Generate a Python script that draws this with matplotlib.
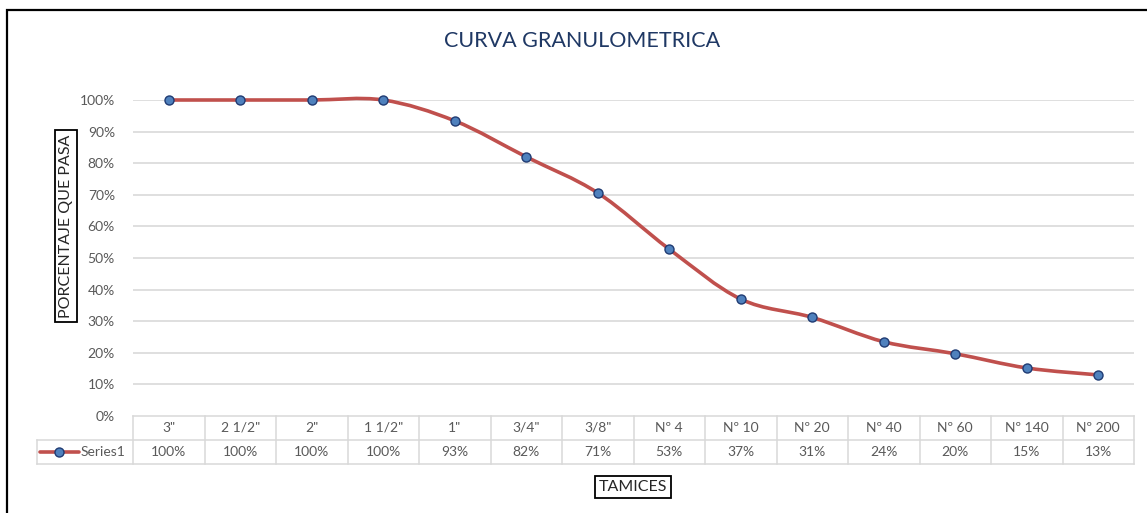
# curva granulometrica - line chart with Excel-like data table
import numpy as np
import matplotlib
matplotlib.use("Agg")
import matplotlib.pyplot as plt
from matplotlib.path import Path
from matplotlib.patches import PathPatch, Rectangle
from matplotlib.lines import Line2D
from matplotlib.transforms import blended_transform_factory

plt.rcParams['font.family'] = ['Lato', 'DejaVu Sans']

tamices = ['3"', '2 1/2"', '2"', '1 1/2"', '1"', '3/4"', '3/8"',
           'Nº 4', 'Nº 10', 'Nº 20', 'Nº 40', 'Nº 60', 'Nº 140', 'Nº 200']
pasa = [1.00, 1.00, 1.00, 1.00, 0.934, 0.820, 0.706, 0.528,
        0.370, 0.312, 0.235, 0.197, 0.152, 0.130]
series_name = "Series1"

LINE_C = "#C0504D"
MARK_C = "#4F81BD"
EDGE_C = "#1F3B73"
GRID_C = "#D9D9D9"
TXT_C = "#595959"

W, H = 1147, 513
fig = plt.figure(figsize=(W / 100, H / 100), dpi=100)
ax = fig.add_axes([133 / W, 1 - 416 / H, (1134 - 133) / W, (416 - 100) / H])

n = len(tamices)
xs = np.arange(n)
ys = np.array(pasa)

# smoothed line like Excel (catmull-rom as bezier)
pts = np.column_stack([xs, ys])
verts = [pts[0]]
codes = [Path.MOVETO]
for i in range(n - 1):
    p0 = pts[max(i - 1, 0)]
    p1 = pts[i]
    p2 = pts[i + 1]
    p3 = pts[min(i + 2, n - 1)]
    verts += [p1 + (p2 - p0) / 6, p2 - (p3 - p1) / 6, p2]
    codes += [Path.CURVE4] * 3
ax.add_patch(PathPatch(Path(verts, codes), fill=False, edgecolor=LINE_C,
                       lw=2.6, capstyle='round', clip_on=False, zorder=3))
ax.plot(xs, ys, ls='none', marker='o', ms=6.5, mfc=MARK_C, mec=EDGE_C,
        mew=1.0, clip_on=False, zorder=4)

ax.set_xlim(-0.5, n - 0.5)
ax.set_ylim(0, 1.0)
yt = np.arange(0, 1.01, 0.1)
ax.set_yticks(yt)
ax.set_yticklabels([f"{int(round(v * 100))}%" for v in yt], color=TXT_C, fontsize=10)
ax.tick_params(axis='y', length=0, pad=13)
ax.set_xticks([])
for s in ax.spines.values():
    s.set_visible(False)
for v in yt[1:]:
    ax.axhline(v, color=GRID_C, lw=1.2, zorder=1)

# data table under the axis
tr = blended_transform_factory(ax.transData, ax.transAxes)
ah = 416 - 100
r1 = -24 / ah
r2 = -48 / ah
xl = -0.5 - (133 - 37) / ((1134 - 133) / n)
tab_kw = dict(color=GRID_C, lw=1.1, transform=tr, clip_on=False)
ax.plot([-0.5, n - 0.5], [0, 0], **tab_kw)
ax.plot([xl, n - 0.5], [r1, r1], **tab_kw)
ax.plot([xl, n - 0.5], [r2, r2], **tab_kw)
for b in np.arange(n + 1) - 0.5:
    ax.plot([b, b], [0, r2], **tab_kw)
ax.plot([xl, xl], [r1, r2], **tab_kw)
for i, (t, v) in enumerate(zip(tamices, pasa)):
    ax.text(i, r1 / 2, t, transform=tr, ha='center', va='center',
            fontsize=10, color=TXT_C)
    ax.text(i, (r1 + r2) / 2, f"{int(round(v * 100))}%", transform=tr,
            ha='center', va='center', fontsize=10, color=TXT_C)

# legend key in the row label cell
cell_w = (1134 - 133) / n
lx0 = xl + 3 / cell_w
lx1 = xl + 42 / cell_w
ym = (r1 + r2) / 2
ax.add_line(Line2D([lx0, lx1], [ym, ym], color=LINE_C, lw=2.6,
                   transform=tr, clip_on=False, solid_capstyle='round'))
ax.plot([(lx0 + lx1) / 2], [ym], marker='o', ms=6.5, mfc=MARK_C, mec=EDGE_C,
        mew=1.0, transform=tr, clip_on=False)
ax.text(lx1 + 2 / cell_w, ym, series_name, transform=tr, ha='left',
        va='center', fontsize=10, color=TXT_C)

# title and boxed axis labels
fig.text(582 / W, 1 - 41 / H, "CURVA GRANULOMETRICA", ha='center',
         va='center', fontsize=15.5, color="#1F3864")
box = dict(boxstyle='square,pad=0.25', fc='white', ec='black', lw=1.3)
fig.text(66 / W, 1 - 226 / H, "PORCENTAJE QUE PASA", rotation=90,
         ha='center', va='center', fontsize=11.5, color="#262626", bbox=box)
fig.text(633 / W, 1 - 487 / H, "TAMICES", ha='center', va='center',
         fontsize=11.5, color="#262626", bbox=box)

# outer chart border
fig.patches.append(Rectangle((7.5 / W, -0.1), 1.2, 1.1 - 10.5 / H,
                             transform=fig.transFigure, fill=False,
                             ec='black', lw=1.6))

fig.savefig("out.png", dpi=100)
